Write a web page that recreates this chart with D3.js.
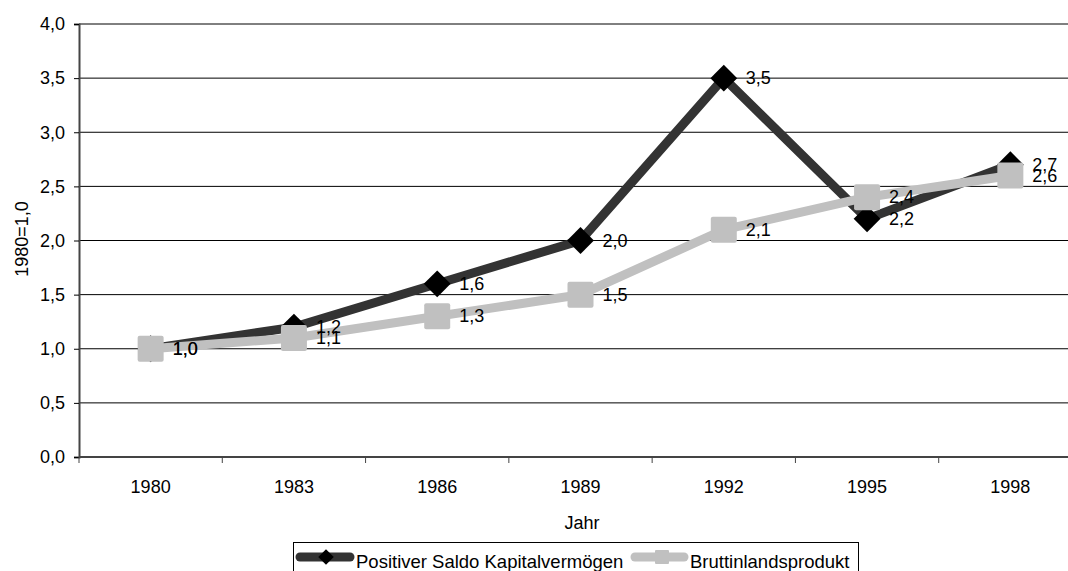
<!DOCTYPE html>
<html>
<head>
<meta charset="utf-8">
<script src="https://cdn.jsdelivr.net/npm/d3@7"></script>
<style>
  body { margin: 0; background: #fff; }
  svg { display: block; font-family: "Liberation Sans", Arial, sans-serif; }
</style>
</head>
<body>
<div id="plot"></div>
<script>
// data
const years = ["1980", "1983", "1986", "1989", "1992", "1995", "1998"];
const saldo = [1.0, 1.2, 1.6, 2.0, 3.5, 2.2, 2.7];
const bip = [1.0, 1.1, 1.3, 1.5, 2.1, 2.4, 2.6];
const yTicks = [0, 0.5, 1, 1.5, 2, 2.5, 3, 3.5, 4];
const seriesNames = ["Positiver Saldo Kapitalvermögen", "Bruttinlandsprodukt"];

const width = 1068, height = 571;
const margin = { left: 79, top: 24, bottom: 114 };
const plotRight = 1082; // plot runs past the window edge
const fontSize = 18;

const fmt = v => d3.format(".1f")(v).replace(".", ",");

let svg = d3.select("#plot").append("svg")
    .attr("width", width)
    .attr("height", height)
    .attr("font-family", "Liberation Sans, Arial, sans-serif");

let x = d3.scaleBand()
    .domain(years)
    .range([margin.left, plotRight]);

let y = d3.scaleLinear()
    .domain([0, 4])
    .range([height - margin.bottom, margin.top]);

// gridlines
svg.append("g").selectAll("line")
    .data(yTicks.filter(d => d > 0))
    .join("line")
    .attr("x1", margin.left).attr("x2", plotRight)
    .attr("y1", d => y(d)).attr("y2", d => y(d))
    .attr("stroke", "#000").attr("stroke-width", 1);

// y axis
let yAxis = svg.append("g")
    .attr("transform", `translate(${margin.left},0)`)
    .call(d3.axisLeft(y).tickValues(yTicks).tickFormat(fmt).tickSize(5).tickPadding(9));
yAxis.select(".domain").attr("stroke", "#444").attr("stroke-width", 2);
yAxis.selectAll(".tick line").attr("stroke", "#000");
yAxis.selectAll("text")
    .attr("font-size", fontSize)
    .attr("fill", "#000")
    .attr("font-family", "Liberation Sans, Arial, sans-serif");

// x axis: ticks sit at the band edges
let xAxisG = svg.append("g")
    .attr("transform", `translate(0,${y(0)})`);
xAxisG.append("line")
    .attr("x1", margin.left).attr("x2", plotRight)
    .attr("stroke", "#444").attr("stroke-width", 2);
xAxisG.selectAll("line.tk")
    .data(years)
    .join("line")
    .attr("class", "tk")
    .attr("x1", d => x(d)).attr("x2", d => x(d))
    .attr("y1", 0).attr("y2", 6)
    .attr("stroke", "#444").attr("stroke-width", 1);
xAxisG.selectAll("text")
    .data(years)
    .join("text")
    .attr("x", d => x(d) + x.bandwidth() / 2)
    .attr("y", 36)
    .attr("text-anchor", "middle")
    .attr("font-size", fontSize)
    .text(d => d);

// axis titles
svg.append("text")
    .attr("x", 582).attr("y", 529)
    .attr("text-anchor", "middle")
    .attr("font-size", fontSize)
    .text("Jahr");
svg.append("text")
    .attr("transform", `translate(28,239) rotate(-90)`)
    .attr("text-anchor", "middle")
    .attr("font-size", fontSize)
    .text("1980=1,0");

const cx = (d, i) => x(years[i]) + x.bandwidth() / 2;
let line = d3.line().x((d, i) => cx(d, i)).y(d => y(d));

// dark series
svg.append("path")
    .datum(saldo)
    .attr("d", line)
    .attr("fill", "none")
    .attr("stroke", "#333")
    .attr("stroke-width", 9);
svg.append("g").selectAll("path")
    .data(saldo)
    .join("path")
    .attr("d", d3.symbol(d3.symbolSquare, 360)())
    .attr("transform", (d, i) => `translate(${cx(d, i)},${y(d)}) rotate(45)`)
    .attr("fill", "#000");

// light series
svg.append("path")
    .datum(bip)
    .attr("d", line)
    .attr("fill", "none")
    .attr("stroke", "#c0c0c0")
    .attr("stroke-width", 9);
svg.append("g").selectAll("rect")
    .data(bip)
    .join("rect")
    .attr("x", (d, i) => cx(d, i) - 13)
    .attr("y", d => y(d) - 13)
    .attr("width", 26).attr("height", 26)
    .attr("rx", 2)
    .attr("fill", "#c0c0c0");

// value labels
function labels(data) {
    svg.append("g").selectAll("text")
        .data(data)
        .join("text")
        .attr("x", (d, i) => cx(d, i) + 22)
        .attr("y", d => y(d) + 6)
        .attr("font-size", fontSize)
        .text(d => fmt(d));
}
labels(saldo);
labels(bip);

// legend
let lg = svg.append("g");
lg.append("rect")
    .attr("x", 293.5).attr("y", 542.5)
    .attr("width", 565).attr("height", 40)
    .attr("fill", "#fff").attr("stroke", "#000");
lg.append("line")
    .attr("x1", 300).attr("x2", 350).attr("y1", 557).attr("y2", 557)
    .attr("stroke", "#333").attr("stroke-width", 9).attr("stroke-linecap", "round");
lg.append("path")
    .attr("d", d3.symbol(d3.symbolSquare, 120)())
    .attr("transform", "translate(326,557) rotate(45)")
    .attr("fill", "#000");
lg.append("text")
    .attr("x", 356).attr("y", 568)
    .attr("font-size", 18.5)
    .text(seriesNames[0]);
lg.append("line")
    .attr("x1", 635).attr("x2", 684).attr("y1", 557).attr("y2", 557)
    .attr("stroke", "#c0c0c0").attr("stroke-width", 9).attr("stroke-linecap", "round");
lg.append("rect")
    .attr("x", 655).attr("y", 550).attr("width", 14).attr("height", 14)
    .attr("rx", 1)
    .attr("fill", "#c0c0c0");
lg.append("text")
    .attr("x", 690).attr("y", 568)
    .attr("font-size", 18.5)
    .text(seriesNames[1]);
</script>
</body>
</html>
